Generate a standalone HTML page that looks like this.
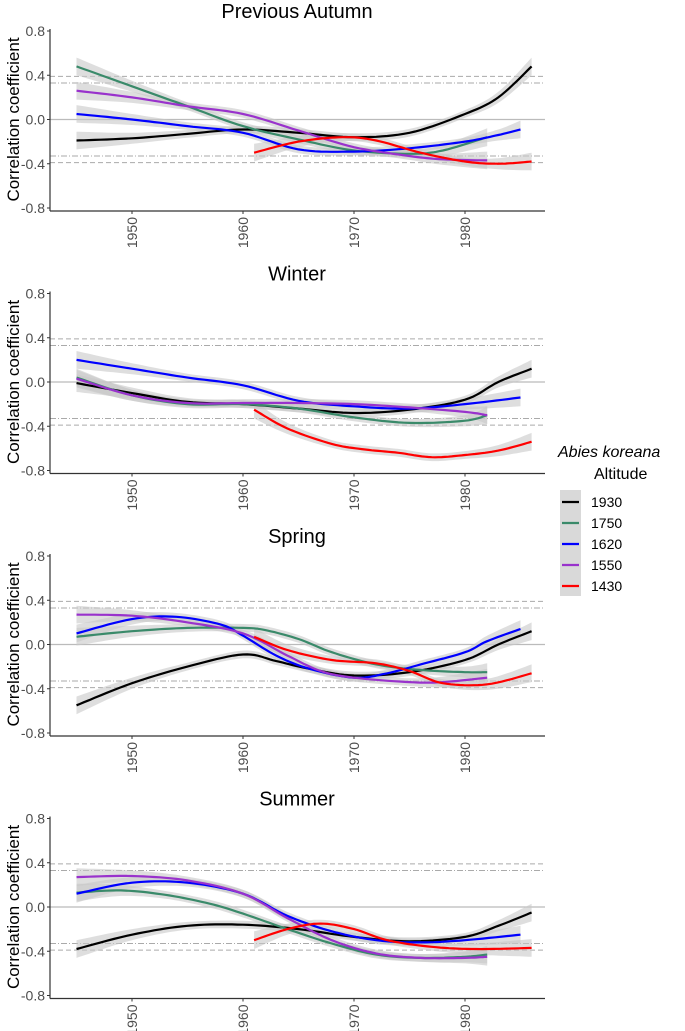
<!DOCTYPE html>
<html><head><meta charset="utf-8"><style>
body{margin:0;background:#fff;}
svg{display:block;font-family:"Liberation Sans",sans-serif;}
</style></head><body>
<svg id="chart" width="685" height="1031"></svg>
<script>
const seriesNames=["1930","1750","1620","1550","1430"];
const seriesColors=["#000000","#3a8a6a","#0000ff","#9932cc","#ff0000"];
const panelTitles=["Previous Autumn","Winter","Spring","Summer"];
const yTicks=[0.8,0.4,0.0,-0.4,-0.8];
const yTickLabels=["0.8","0.4","0.0","-0.4","-0.8"];
const xTicks=[1950,1960,1970,1980];
const sigLevels=[0.39,0.33];
const autumn1930=[[1945,1950,1955,1960,1965,1970,1975,1980,1983,1986],[-0.19,-0.17,-0.13,-0.09,-0.12,-0.16,-0.12,0.05,0.2,0.48]];
const autumn1750=[[1945,1950,1955,1960,1965,1970,1975,1978,1982],[0.48,0.3,0.12,-0.06,-0.18,-0.28,-0.31,-0.28,-0.16]];
const autumn1620=[[1945,1950,1955,1960,1965,1970,1975,1980,1983,1985],[0.05,0.0,-0.06,-0.12,-0.27,-0.29,-0.26,-0.2,-0.14,-0.09]];
const autumn1550=[[1945,1950,1955,1960,1965,1970,1975,1978,1982],[0.26,0.2,0.12,0.05,-0.1,-0.25,-0.33,-0.36,-0.37]];
const autumn1430=[[1961,1965,1969,1972,1976,1980,1983,1986],[-0.3,-0.2,-0.16,-0.19,-0.3,-0.38,-0.4,-0.38]];
const winter1930=[[1945,1950,1955,1960,1965,1970,1975,1980,1983,1986],[-0.01,-0.1,-0.18,-0.2,-0.24,-0.28,-0.25,-0.16,0.0,0.12]];
const winter1750=[[1945,1950,1955,1960,1965,1970,1975,1980,1982],[0.04,-0.12,-0.2,-0.2,-0.24,-0.32,-0.37,-0.35,-0.3]];
const winter1620=[[1945,1950,1955,1960,1965,1970,1975,1980,1985],[0.2,0.12,0.04,-0.03,-0.17,-0.22,-0.24,-0.2,-0.14]];
const winter1550=[[1945,1950,1955,1960,1965,1970,1975,1980,1982],[0.03,-0.12,-0.19,-0.19,-0.19,-0.2,-0.23,-0.27,-0.3]];
const winter1430=[[1961,1964,1968,1971,1974,1977,1980,1983,1986],[-0.25,-0.42,-0.56,-0.61,-0.64,-0.68,-0.66,-0.62,-0.54]];
const spring1930=[[1945,1950,1955,1960,1963,1966,1970,1975,1980,1983,1986],[-0.55,-0.35,-0.2,-0.09,-0.15,-0.22,-0.28,-0.25,-0.14,0.0,0.12]];
const spring1750=[[1945,1950,1955,1960,1962,1965,1968,1972,1976,1980,1982],[0.07,0.12,0.15,0.15,0.13,0.05,-0.07,-0.18,-0.23,-0.25,-0.25]];
const spring1620=[[1945,1950,1954,1958,1960,1963,1966,1970,1973,1976,1980,1982,1985],[0.1,0.23,0.25,0.18,0.08,-0.1,-0.22,-0.3,-0.26,-0.18,-0.07,0.03,0.14]];
const spring1550=[[1945,1950,1955,1960,1964,1967,1970,1975,1978,1982],[0.27,0.26,0.2,0.1,-0.1,-0.24,-0.3,-0.34,-0.34,-0.3]];
const spring1430=[[1961,1964,1968,1972,1975,1978,1982,1986],[0.07,-0.05,-0.14,-0.17,-0.24,-0.35,-0.36,-0.26]];
const summer1930=[[1945,1950,1955,1960,1965,1970,1975,1980,1983,1986],[-0.38,-0.25,-0.17,-0.16,-0.2,-0.27,-0.31,-0.27,-0.17,-0.05]];
const summer1750=[[1945,1949,1953,1957,1960,1964,1968,1972,1976,1980,1982],[0.13,0.15,0.11,0.03,-0.06,-0.2,-0.33,-0.43,-0.46,-0.45,-0.43]];
const summer1620=[[1945,1950,1955,1960,1964,1968,1972,1976,1980,1985],[0.12,0.22,0.22,0.12,-0.08,-0.22,-0.3,-0.32,-0.3,-0.25]];
const summer1550=[[1945,1950,1955,1960,1964,1968,1972,1976,1980,1982],[0.27,0.28,0.24,0.12,-0.1,-0.3,-0.42,-0.46,-0.46,-0.45]];
const summer1430=[[1961,1964,1967,1970,1973,1977,1981,1986],[-0.3,-0.2,-0.15,-0.2,-0.3,-0.36,-0.38,-0.37]];
const panelData=[[autumn1930,autumn1750,autumn1620,autumn1550,autumn1430],
 [winter1930,winter1750,winter1620,winter1550,winter1430],
 [spring1930,spring1750,spring1620,spring1550,spring1430],
 [summer1930,summer1750,summer1620,summer1550,summer1430]];

const NS="http://www.w3.org/2000/svg";
const svg=document.getElementById('chart');
function mk(tag,attrs,parent){const e=document.createElementNS(NS,tag);for(const k in attrs)e.setAttribute(k,attrs[k]);(parent||svg).appendChild(e);return e;}
const L=50,R=545,panelTop0=31,panelStep=262.5,ySpan=177;
function xs(v){return 132+(v-1950)*11.1;}
function smoothPts(xsA,ysA){
  const out=[];const n=xsA.length;
  for(let i=0;i<n-1;i++){
    const p0=i>0?i-1:i,p3=i+2<n?i+2:i+1;
    for(let t=0;t<1;t+=0.1){
      const t2=t*t,t3=t2*t;
      const f=(a,b,c,d)=>0.5*((2*b)+(-a+c)*t+(2*a-5*b+4*c-d)*t2+(-a+3*b-3*c+d)*t3);
      out.push([f(xsA[p0],xsA[i],xsA[i+1],xsA[p3]),f(ysA[p0],ysA[i],ysA[i+1],ysA[p3])]);
    }
  }
  out.push([xsA[n-1],ysA[n-1]]);return out;
}
panelData.forEach((series,p)=>{
  const top=panelTop0+p*panelStep;
  const ys=v=>top+(0.8-v)/1.6*ySpan;
  const g=mk('g',{});
  
  
  const t=mk('text',{x:297,y:top-13,'font-size':20,'text-anchor':'middle',fill:'#000'},g);t.textContent=panelTitles[p];
  
  mk('line',{x1:L,x2:R,y1:ys(0),y2:ys(0),stroke:'#bbb','stroke-width':1.2},g);
  sigLevels.forEach((s,i)=>{[s,-s].forEach(v=>{
    const ln=mk('line',{x1:L,x2:R,y1:ys(v),y2:ys(v),stroke:'#aaa','stroke-width':1,'stroke-dasharray':i==0?'5,3':'6,2,1,2'},g);
    
  });});
  series.forEach((s,k)=>{
    const px=s[0].map(xs),n=px.length;
    const hw=s[0].map((_,i)=>{const d=Math.min(i,n-1-i);return d==0?0.08:d==1?0.05:0.035;});
    const up=smoothPts(px,s[1].map((v,i)=>ys(v+hw[i])));
    const dn=smoothPts(px,s[1].map((v,i)=>ys(v-hw[i]))).reverse();
    const r=mk('path',{d:'M'+up.concat(dn).map(q=>q[0].toFixed(1)+','+q[1].toFixed(1)).join('L')+'Z',fill:'#c8c8c8','fill-opacity':0.6},g);
    
  });
  series.forEach((s,k)=>{
    const pts=smoothPts(s[0].map(xs),s[1].map(ys));
    const l=mk('path',{d:'M'+pts.map(q=>q[0].toFixed(1)+','+q[1].toFixed(1)).join('L'),fill:'none',stroke:seriesColors[k],'stroke-width':2.2},g);
    
  });
  mk('line',{x1:L,x2:L,y1:top-2,y2:top+ySpan+3,stroke:'#333','stroke-width':1.2},g);
  mk('line',{x1:L,x2:R,y1:top+ySpan+3,y2:top+ySpan+3,stroke:'#333','stroke-width':1.2},g);
  yTicks.forEach((v,i)=>{
    mk('line',{x1:L-3,x2:L,y1:ys(v),y2:ys(v),stroke:'#333'},g);
    const tx=mk('text',{x:L-5,y:ys(v)+5,'font-size':14,'text-anchor':'end',fill:'#4d4d4d'},g);tx.textContent=yTickLabels[i];
    
  });
  xTicks.forEach(v=>{
    const by=top+ySpan+3;
    mk('line',{x1:xs(v),x2:xs(v),y1:by,y2:by+3,stroke:'#333'},g);
    const tx=mk('text',{x:0,y:0,'font-size':14,'text-anchor':'end',fill:'#4d4d4d',transform:`translate(${xs(v)+5},${by+6}) rotate(-90)`},g);tx.textContent=v;
    
  });
  const yt=mk('text',{x:0,y:0,'font-size':17,'text-anchor':'middle',fill:'#000',transform:`translate(19,${top+ySpan/2}) rotate(-90)`},g);yt.textContent='Correlation coefficient';
  
});
const lg=mk('g',{});

const lt1=mk('text',{x:558,y:457,'font-size':16,'font-style':'italic',fill:'#000'},lg);lt1.textContent='Abies koreana';

const lt2=mk('text',{x:594,y:479,'font-size':16,fill:'#000'},lg);lt2.textContent='Altitude';

mk('rect',{x:560,y:490,width:21,height:106,fill:'#d9d9d9'},lg);
seriesNames.forEach((nm,i)=>{
  const y=502+i*21;
  const e=mk('g',{},lg);
  
  mk('line',{x1:562,x2:579,y1:y,y2:y,stroke:seriesColors[i],'stroke-width':2.2},e);
  const tx=mk('text',{x:591,y:y+5,'font-size':14,fill:'#000'},e);tx.textContent=nm;
});
</script>
</body></html>
